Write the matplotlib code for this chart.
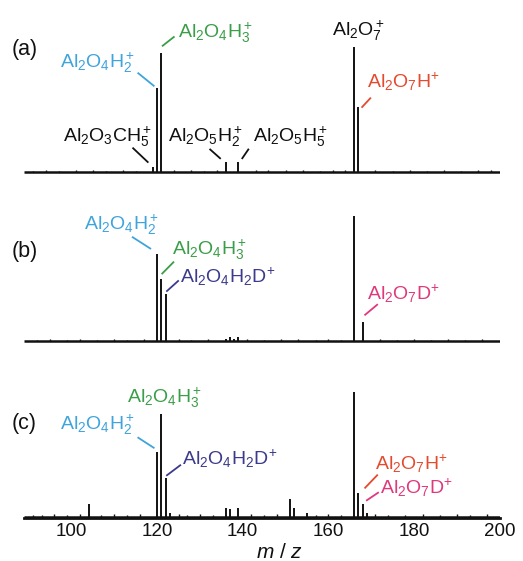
import matplotlib
matplotlib.use("Agg")
import matplotlib.pyplot as plt

plt.rcParams['font.family'] = ['Liberation Sans', 'DejaVu Sans']
plt.rcParams['mathtext.fontset'] = 'custom'
plt.rcParams['mathtext.rm'] = 'Liberation Sans'
plt.rcParams['mathtext.it'] = 'Liberation Sans:italic'
plt.rcParams['mathtext.default'] = 'regular'

# ---------------- data ----------------
mz_a = [119, 120, 121, 136, 139, 166, 167]
int_a = [4, 67, 95, 8, 8, 100, 52]

mz_b = [120, 121, 122, 136, 137, 138, 139, 166, 168]
int_b = [70, 50, 38, 2, 3, 2, 3, 100, 15]

mz_c = [104, 120, 121, 122, 123, 136, 137, 139, 151, 152, 155, 166, 167, 168, 169]
int_c = [10, 52, 82, 31, 3, 7, 6, 7, 14, 7, 3, 100, 19, 10, 3]

noise_mz_a = [91, 94, 97, 101, 105, 108, 112, 115, 124, 128, 131, 134, 143, 146, 150, 154, 158, 161, 164, 171, 175, 179, 183, 187, 191, 195, 198]
noise_int_a = [1.2, 1.6, 1.0, 1.4, 1.8, 1.1, 1.5, 1.2, 1.7, 1.3, 1.0, 1.5, 1.6, 2.0, 1.3, 1.8, 1.2, 1.5, 1.4, 1.6, 1.1, 1.4, 1.2, 1.7, 1.0, 1.3, 1.5]

noise_mz_b = [92, 95, 99, 102, 106, 110, 113, 117, 125, 128, 132, 141, 145, 149, 153, 157, 160, 163, 172, 176, 180, 184, 188, 192, 196]
noise_int_b = [1.1, 1.4, 1.0, 1.5, 1.2, 1.6, 1.0, 1.3, 1.8, 1.2, 1.4, 1.5, 1.1, 1.6, 1.3, 1.0, 1.4, 1.2, 1.5, 1.1, 1.3, 1.0, 1.6, 1.2, 1.4]

noise_mz_c = [91, 93, 96, 99, 102, 107, 110, 113, 116, 125, 127, 130, 133, 142, 145, 148, 157, 160, 163, 171, 174, 178, 182, 186, 190, 193, 197]
noise_int_c = [1.6, 1.2, 2.0, 1.4, 1.8, 1.5, 2.2, 1.3, 1.7, 2.4, 1.5, 1.9, 1.4, 2.1, 1.6, 2.3, 1.5, 1.8, 1.3, 2.0, 1.6, 1.4, 1.9, 1.5, 1.7, 1.3, 1.8]

xticks = [100, 120, 140, 160, 180, 200]

BLUE = '#3fa4dc'
GREEN = '#3a9e48'
RED = '#e54a2e'
PURPLE = '#3c3a8c'
PINK = '#e0387c'
BLACK = '#111111'

# labels: (text, x, y, ha, color, leader [(x0,y0),(x1,y1)] or None)
labels_a = [
    (r'$Al_2O_4H_3^+$', 124.9, 111, 'left', GREEN, ((121.3, 101), (123.9, 108))),
    (r'$Al_2O_4H_2^+$', 114.9, 87, 'right', BLUE, ((115.6, 79), (119.2, 69))),
    (r'$Al_2O_7^+$', 167.0, 113, 'center', BLACK, None),
    (r'$Al_2O_7H^{\!+}$', 169.0, 72, 'left', RED, ((167.9, 52), (169.8, 59))),
    (r'$Al_2O_3CH_5^+$', 118.8, 28, 'right', BLACK, ((114.4, 19), (117.8, 8))),
    (r'$Al_2O_5H_2^+$', 131.2, 28, 'center', BLACK, ((132.4, 18), (134.7, 11))),
    (r'$Al_2O_5H_5^+$', 142.4, 28, 'left', BLACK, ((141.3, 18), (139.9, 11))),
]
labels_b = [
    (r'$Al_2O_4H_2^+$', 111.6, 93, 'center', BLUE, ((114.3, 83), (118.4, 74))),
    (r'$Al_2O_4H_3^+$', 123.5, 73, 'left', GREEN, ((123.8, 63), (121.2, 54))),
    (r'$Al_2O_4H_2D^{\!+}$', 125.4, 51, 'left', PURPLE, ((124.9, 48), (122.3, 40))),
    (r'$Al_2O_7D^{\!+}$', 169.0, 38, 'left', PINK, ((171.4, 29), (168.6, 21))),
]
labels_c = [
    (r'$Al_2O_4H_3^+$', 121.6, 95, 'center', GREEN, None),
    (r'$Al_2O_4H_2^+$', 114.9, 73, 'right', BLUE, ((115.6, 63), (119.2, 55))),
    (r'$Al_2O_4H_2D^{\!+}$', 125.8, 46, 'left', PURPLE, ((125.4, 41), (122.3, 33))),
    (r'$Al_2O_7H^{\!+}$', 170.9, 42, 'left', RED, ((171.4, 33), (168.6, 23))),
    (r'$Al_2O_7D^{\!+}$', 172.0, 23, 'left', PINK, ((171.6, 19), (169.0, 13))),
]

# ---------------- figure ----------------
W, H = 523, 561
fig = plt.figure(figsize=(W / 100, H / 100), dpi=100)

left = 24 / W
width = (500 - 24) / W
ax_h = 140 / H
bottoms_px = [174.5, 343.5, 517.5]
ybottoms = [-2, -2, -0.8]
panels = [
    (mz_a, int_a, noise_mz_a, noise_int_a, labels_a, '(a)', 50),
    (mz_b, int_b, noise_mz_b, noise_int_b, labels_b, '(b)', 252),
    (mz_c, int_c, noise_mz_c, noise_int_c, labels_c, '(c)', 423),
]

XMIN, XMAX = 88.9, 200.1
for i, (mz, it, nmz, nit, labs, tag, tag_y) in enumerate(panels):
    ax = fig.add_axes([left, (H - bottoms_px[i]) / H, width, ax_h])
    ax.set_xlim(XMIN, XMAX)
    ax.set_ylim(ybottoms[i], ybottoms[i] + 112)
    ax.patch.set_alpha(0)
    # baseline
    ax.plot([XMIN, XMAX], [0, 0], color=BLACK, lw=1.8, solid_capstyle='butt')
    # noise
    ax.vlines(nmz, 0, nit, color=BLACK, lw=1.0)
    # peaks
    ax.vlines(mz, 0, it, color=BLACK, lw=1.4)
    for (txt, x, y, ha, col, lead) in labs:
        ax.text(x, y, txt, ha=ha, va='center', color=col, fontsize=14, clip_on=False)
        if lead is not None:
            ax.plot([lead[0][0], lead[1][0]], [lead[0][1], lead[1][1]],
                    color=col, lw=1.3, clip_on=False)
    fig.text(12 / W, 1 - tag_y / H, tag, ha='left', va='center', fontsize=15.5, color=BLACK)
    for s in ['top', 'right', 'left']:
        ax.spines[s].set_visible(False)
    ax.set_yticks([])
    if i < 2:
        ax.spines['bottom'].set_visible(False)
        ax.set_xticks([])
    else:
        ax.spines['bottom'].set_linewidth(2.0)
        ax.spines['bottom'].set_color(BLACK)
        ax.set_xticks(xticks)
        ax.set_xticklabels([str(v) for v in xticks])
        ax.tick_params(axis='x', length=0, pad=4, labelsize=13.5, colors=BLACK)

fig.text(279 / W, 1 - 553 / H, r'$\mathit{m}$ / $\mathit{z}$', ha='center', va='center',
         fontsize=15, color=BLACK)

fig.savefig('out.png', dpi=100)
